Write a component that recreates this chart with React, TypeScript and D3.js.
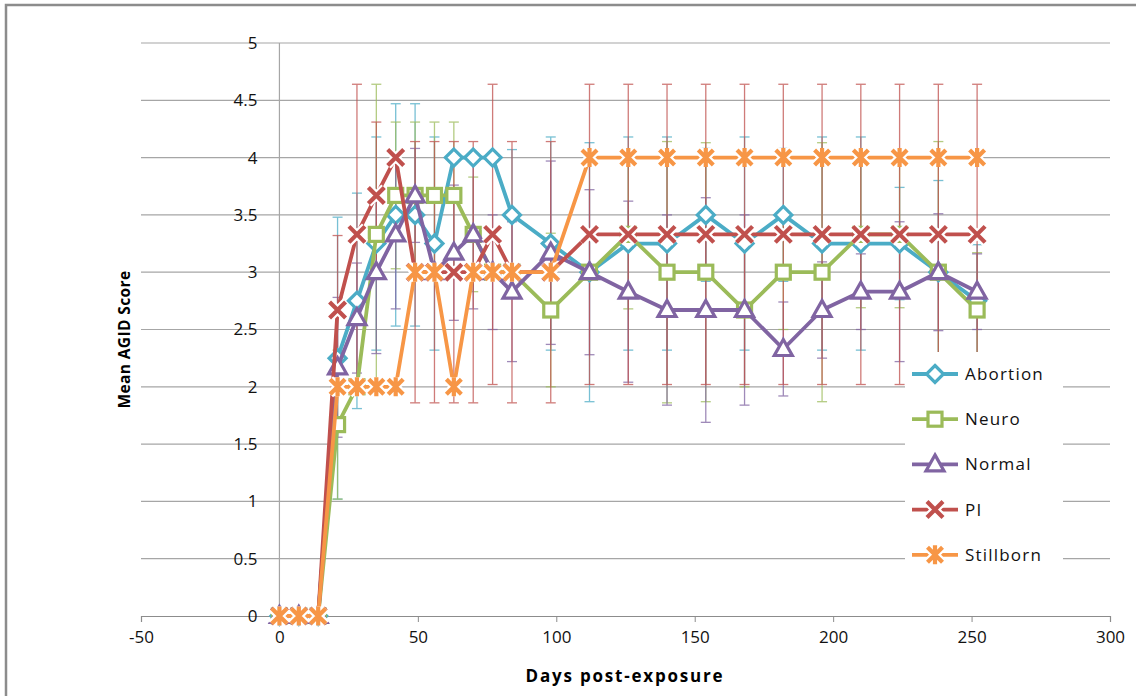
import React, { useEffect, useRef } from 'react';
import * as d3 from 'd3';

// days post-exposure where each group was sampled
const days = [0, 7, 14, 21, 28, 35, 42, 49, 56, 63, 70, 77, 84, 98, 112, 126, 140, 154, 168, 182, 196, 210, 224, 238, 252];

const abortion = [0, 0, 0, 2.25, 2.75, 3.25, 3.5, 3.5, 3.25, 4, 4, 4, 3.5, 3.25, 3, 3.25, 3.25, 3.5, 3.25, 3.5, 3.25, 3.25, 3.25, 3, 2.75];
const abortionSd = [0, 0, 0, 1.23, 0.94, 0.93, 0.97, 0.97, 0.93, 0, 0, 0, 0.57, 0.93, 1.13, 0.93, 0.93, 0.58, 0.93, 0.58, 0.93, 0.93, 0.49, 0.8, 0.49];

const neuro = [0, 0, 0, 1.67, 2, 3.33, 3.67, 3.67, 3.67, 3.67, 3.33, 3, 3, 2.67, 3, 3.33, 3, 3, 2.67, 3, 3, 3.33, 3.33, 3, 2.67];
const neuroSd = [0, 0, 0, 0.65, 0, 1.31, 0.64, 0.64, 0.64, 0.64, 0.5, 0, 0, 0.67, 0, 0.65, 1.14, 1.13, 0.67, 0.5, 1.13, 0.64, 0.64, 1.14, 0.5];

const normal = [0, 0, 0, 2.17, 2.6, 3, 3.33, 3.67, 3, 3.17, 3.33, 3, 2.83, 3.17, 3, 2.83, 2.67, 2.67, 2.67, 2.33, 2.67, 2.83, 2.83, 3, 2.83];
const normalSd = [0, 0, 0, 0.61, 0.48, 0.71, 0.65, 0.41, 0, 0.59, 0.65, 0.5, 0.61, 0.8, 0.72, 0.79, 0.83, 0.98, 0.83, 0.41, 0.42, 0.33, 0.61, 0.51, 0.33];

const pi = [0, 0, 0, 2.67, 3.33, 3.67, 4, 3, 3, 3, 3, 3.33, 3, 3, 3.33, 3.33, 3.33, 3.33, 3.33, 3.33, 3.33, 3.33, 3.33, 3.33, 3.33];
const piSd = [0, 0, 0, 0.65, 1.31, 0.64, 0, 1.14, 1.14, 1.14, 1.14, 1.31, 1.14, 1.14, 1.31, 1.31, 1.31, 1.31, 1.31, 1.31, 1.31, 1.31, 1.31, 1.31, 1.31];

const stillborn = [0, 0, 0, 2, 2, 2, 2, 3, 3, 2, 3, 3, 3, 3, 4, 4, 4, 4, 4, 4, 4, 4, 4, 4, 4];
const stillbornSd = days.map(() => 0);

const xTicks = [-50, 0, 50, 100, 150, 200, 250, 300];
const yTicks = [0, 0.5, 1, 1.5, 2, 2.5, 3, 3.5, 4, 4.5, 5];

const series = [
  { name: 'Abortion', values: abortion, sd: abortionSd, color: '#4BACC6', marker: 'diamond' },
  { name: 'Neuro', values: neuro, sd: neuroSd, color: '#9BBB59', marker: 'square' },
  { name: 'Normal', values: normal, sd: normalSd, color: '#8064A2', marker: 'triangle' },
  { name: 'PI', values: pi, sd: piSd, color: '#C0504D', marker: 'x' },
  { name: 'Stillborn', values: stillborn, sd: stillbornSd, color: '#F79646', marker: 'star' },
];

const FONT = '"Open Sans", "Liberation Sans", sans-serif';

function drawMarker(g, kind, color) {
  if (kind === 'diamond') {
    g.append('path').attr('d', 'M0,-8.5L8.5,0L0,8.5L-8.5,0Z')
      .attr('fill', '#fff').attr('stroke', color).attr('stroke-width', 3.2);
  } else if (kind === 'square') {
    g.append('rect').attr('x', -7).attr('y', -7).attr('width', 14).attr('height', 14)
      .attr('fill', '#fff').attr('stroke', color).attr('stroke-width', 3.2);
  } else if (kind === 'triangle') {
    g.append('path').attr('d', 'M0,-9.5L9,6.5L-9,6.5Z')
      .attr('fill', '#fff').attr('stroke', color).attr('stroke-width', 3.2).attr('stroke-linejoin', 'miter');
  } else {
    const d = kind === 'star' ? 'M-7.5,-7.5L7.5,7.5M-7.5,7.5L7.5,-7.5M0,-9.5L0,9.5' : 'M-8,-8L8,8M-8,8L8,-8';
    g.append('path').attr('d', d).attr('stroke', '#fff').attr('stroke-width', 8.5).attr('fill', 'none');
    g.append('path').attr('d', d).attr('stroke', color).attr('stroke-width', 4.2).attr('fill', 'none');
  }
}

const App = () => {
  const svgRef = useRef(null);

  useEffect(() => {
    const svg = d3.select(svgRef.current);
    svg.selectAll('*').remove();

    const width = 1136;
    const height = 696;
    const margin = { top: 43, right: 26, bottom: 80, left: 141 };

    const x = d3.scaleLinear().domain([-50, 300]).range([margin.left, width - margin.right]);
    const y = d3.scaleLinear().domain([0, 5]).range([height - margin.bottom, margin.top]);

    svg.append('rect').attr('width', width).attr('height', height).attr('fill', '#fff');

    // outer chart border (cropped on right/bottom)
    svg.append('path').attr('d', `M6,${height}L6,5L${width},5`)
      .attr('fill', 'none').attr('stroke', '#8c8c8c').attr('stroke-width', 2.5);

    // horizontal gridlines
    svg.append('g').selectAll('line').data(yTicks.filter(t => t > 0)).join('line')
      .attr('x1', x(-50)).attr('x2', x(300))
      .attr('y1', d => y(d)).attr('y2', d => y(d))
      .attr('stroke', '#a6a6a6').attr('stroke-width', 1.2);

    // y axis at x = 0
    svg.append('line').attr('x1', x(0)).attr('x2', x(0)).attr('y1', y(5)).attr('y2', y(0))
      .attr('stroke', '#a6a6a6').attr('stroke-width', 1.2);

    // x axis
    const xAxis = d3.axisBottom(x).tickValues(xTicks).tickSize(6).tickPadding(9).tickFormat(d => String(d));
    const gx = svg.append('g').attr('transform', `translate(0,${y(0)})`).call(xAxis);
    gx.select('.domain').attr('stroke', '#8c8c8c').attr('stroke-width', 1.2);
    gx.selectAll('.tick line').attr('stroke', '#8c8c8c');
    gx.selectAll('.tick text').attr('font-family', FONT).attr('font-size', 17).attr('fill', '#111');

    // y tick labels, drawn over the gridlines
    svg.append('g').selectAll('text').data(yTicks).join('text')
      .attr('x', x(0) - 22).attr('y', d => y(d)).attr('dy', '0.35em')
      .attr('text-anchor', 'end').attr('font-family', FONT).attr('font-size', 17).attr('fill', '#111')
      .text(d => String(d));

    // axis titles
    svg.append('text').attr('x', 625).attr('y', 682).attr('text-anchor', 'middle')
      .attr('font-family', FONT).attr('font-size', 17).attr('font-weight', 'bold').attr('letter-spacing', 1.8)
      .text('Days post-exposure');
    svg.append('text').attr('transform', `translate(130,${(y(0) + y(5)) / 2 + 10}) rotate(-90)`)
      .attr('text-anchor', 'middle')
      .attr('font-family', FONT).attr('font-size', 15.5).attr('font-weight', 'bold').attr('letter-spacing', 0.4)
      .text('Mean AGID Score');

    // error bars
    const eb = svg.append('g');
    series.forEach(s => {
      days.forEach((d, i) => {
        const sd = s.sd[i];
        if (!sd) return;
        const cx = x(d);
        const y1 = y(s.values[i] + sd);
        const y2 = y(s.values[i] - sd);
        const g = eb.append('g').attr('stroke', s.color).attr('stroke-width', 1.3).attr('opacity', 0.75);
        g.append('line').attr('x1', cx).attr('x2', cx).attr('y1', y1).attr('y2', y2);
        g.append('line').attr('x1', cx - 5).attr('x2', cx + 5).attr('y1', y1).attr('y2', y1);
        g.append('line').attr('x1', cx - 5).attr('x2', cx + 5).attr('y1', y2).attr('y2', y2);
      });
    });

    const line = d3.line().x(d => x(d[0])).y(d => y(d[1]));

    series.forEach(s => {
      const pts = days.map((d, i) => [d, s.values[i]]);
      const g = svg.append('g');
      g.append('path').datum(pts).attr('d', line)
        .attr('fill', 'none').attr('stroke', s.color).attr('stroke-width', 3.8).attr('stroke-linejoin', 'round');
      pts.forEach(p => {
        const m = g.append('g').attr('transform', `translate(${x(p[0])},${y(p[1])})`);
        drawMarker(m, s.marker, s.color);
      });
    });

    // legend
    const lg = svg.append('g');
    lg.append('rect').attr('x', 905).attr('y', 352).attr('width', 158).attr('height', 226).attr('fill', '#fff');
    series.forEach((s, i) => {
      const ly = 374 + i * 45.2;
      const row = lg.append('g').attr('transform', `translate(0,${ly})`);
      row.append('line').attr('x1', 912).attr('x2', 958).attr('y1', 0).attr('y2', 0)
        .attr('stroke', s.color).attr('stroke-width', 3.8);
      const m = row.append('g').attr('transform', 'translate(935,0)');
      drawMarker(m, s.marker, s.color);
      row.append('text').attr('x', 965).attr('y', 0).attr('dy', '0.35em')
        .attr('font-family', FONT).attr('font-size', 17).attr('letter-spacing', 1.2).attr('fill', '#111')
        .text(s.name);
    });
  }, []);

  return (
    <div style={{ position: 'absolute', left: 0, top: 0 }}>
      <svg ref={svgRef} width={1136} height={696} style={{ display: 'block' }}></svg>
    </div>
  );
};

export default App;
